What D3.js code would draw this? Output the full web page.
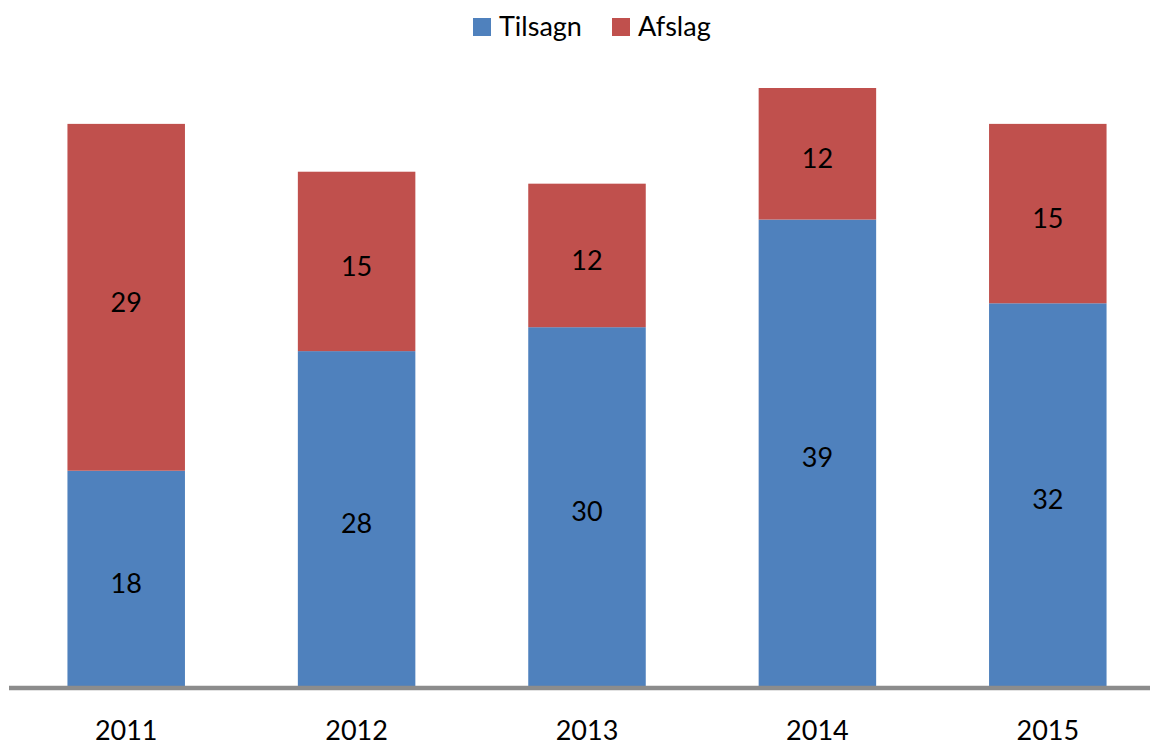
<!DOCTYPE html>
<html>
<head>
<meta charset="utf-8">
<script src="https://cdn.jsdelivr.net/npm/d3@7"></script>
<style>
  body { margin: 0; background: #fff; }
  svg text { font-family: Lato, "Open Sans", sans-serif; fill: #000; }
</style>
</head>
<body>
<div id="chart"></div>
<script>
const years = ["2011", "2012", "2013", "2014", "2015"];
const tilsagn = [18, 28, 30, 39, 32];
const afslag = [29, 15, 12, 12, 15];
const seriesNames = ["Tilsagn", "Afslag"];
const colors = ["#4F81BD", "#C0504D"];
const axisMax = 50;

const width = 1150, height = 746;
const baseY = 686, topY = 88;

const svg = d3.select("#chart").append("svg")
  .attr("width", width).attr("height", height);

const x = d3.scaleBand()
  .domain(years)
  .range([11, 1163])
  .paddingInner(0.49)
  .paddingOuter(0.245);

const y = d3.scaleLinear().domain([0, axisMax]).range([baseY, topY]);

const rows = years.map((yr, i) => ({ year: yr, Tilsagn: tilsagn[i], Afslag: afslag[i] }));
const stacked = d3.stack().keys(seriesNames)(rows);

// bars are clipped at the axis maximum, like the original
const clamp = v => Math.min(v, axisMax);

const groups = svg.selectAll("g.series").data(stacked).enter()
  .append("g").attr("class", "series")
  .attr("fill", (d, i) => colors[i]);

groups.selectAll("rect").data(d => d).enter()
  .append("rect")
  .attr("x", d => x(d.data.year))
  .attr("width", x.bandwidth())
  .attr("y", d => y(clamp(d[1])))
  .attr("height", d => y(clamp(d[0])) - y(clamp(d[1])));

groups.selectAll("text").data((d, i) => d.map(p => ({ p, key: seriesNames[i] }))).enter()
  .append("text")
  .attr("x", d => x(d.p.data.year) + x.bandwidth() / 2)
  .attr("y", d => (y(clamp(d.p[0])) + y(clamp(d.p[1]))) / 2 + 4)
  .attr("text-anchor", "middle")
  .attr("dominant-baseline", "central")
  .style("font-size", "27px")
  .text(d => d.p.data[d.key]);

// baseline
svg.append("line")
  .attr("x1", 9).attr("x2", width)
  .attr("y1", baseY + 2).attr("y2", baseY + 2)
  .attr("stroke", "#8c8c8c")
  .attr("stroke-width", 4.5);

// year labels
svg.selectAll("text.year").data(years).enter()
  .append("text").attr("class", "year")
  .attr("x", d => x(d) + x.bandwidth() / 2)
  .attr("y", 740)
  .attr("text-anchor", "middle")
  .style("font-size", "27px")
  .text(d => d);

// legend
const legendX = [473, 612];
const legend = svg.selectAll("g.legend").data(seriesNames).enter()
  .append("g").attr("class", "legend")
  .attr("transform", (d, i) => "translate(" + legendX[i] + ",0)");

legend.append("rect")
  .attr("x", 0).attr("y", 18)
  .attr("width", 18).attr("height", 18)
  .attr("fill", (d, i) => colors[i]);

legend.append("text")
  .attr("x", 26).attr("y", 36)
  .style("font-size", "27px")
  .text(d => d);
</script>
</body>
</html>
